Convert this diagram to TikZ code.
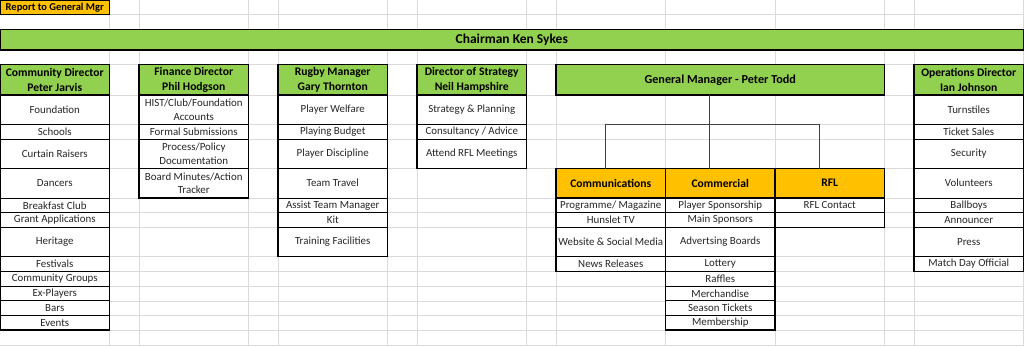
\documentclass[tikz,border=0pt]{standalone}
\usepackage{fontspec}
\setmainfont{Carlito}
\usepackage{tikz}
\usetikzlibrary{positioning, calc}

\definecolor{hdrgreen}{RGB}{146,208,80}
\definecolor{hdrorange}{RGB}{255,192,0}
\definecolor{gridgray}{RGB}{218,218,218}

\begin{document}
\begin{tikzpicture}[x=1pt, y=-1pt,
    cell/.style={draw, line width=0.7pt, fill=white, outer sep=0pt, inner sep=0pt,
        minimum width=109.5pt, minimum height=14.7pt, align=center,
        font=\fontsize{10.9}{13.8}\selectfont, text=black!85},
    tall/.style={cell, minimum height=29.4pt},
    head/.style={cell, line width=1.5pt, fill=hdrgreen, minimum height=30.3pt,
        font=\fontsize{11.6}{15.5}\selectfont\bfseries, text=black},
    sub/.style={head, fill=hdrorange, minimum height=29.4pt},
    boxframe/.style={line width=1.5pt},
    gridline/.style={gridgray, line width=0.6pt},
    link/.style={black!75, line width=0.8pt}]

    % sheet background and grid
    \fill[white] (0,0) rectangle (1024,346);
    \useasboundingbox (0,0) rectangle (1024,346);
    \foreach \gx in {109.5,139,248.5,278,387.5,417,526.5,556,665.5,775,884.5,914,1023.5}
        \draw[gridline] (\gx,0) -- (\gx,346);
    \foreach \gy in {14.7,29.4,50,64.7,95,124.4,139.1,168.5,197.9,212.6,227.3,256.7,271.4,286.1,300.8,315.5,330.2,344.9}
        \draw[gridline] (0,\gy) -- (1024,\gy);

    % top rows
    \node[cell, fill=hdrorange, text=black, font=\fontsize{10.5}{13.5}\selectfont\bfseries, anchor=north west] (report) at (0,0) {Report to General Mgr};
    \node[head, anchor=north west, minimum width=1023.5pt, minimum height=20.6pt, font=\fontsize{13.5}{16}\selectfont\bfseries] (chair) at (0,29.4) {Chairman Ken Sykes};

    % Community Director
    \node[head, anchor=north west] (cd) at (0,64.7) {Community Director\\Peter Jarvis};
    \node[tall, below=0pt of cd] (cd1) {Foundation};
    \node[cell, below=0pt of cd1] (cd2) {Schools};
    \node[tall, below=0pt of cd2] (cd3) {Curtain Raisers};
    \node[tall, below=0pt of cd3] (cd4) {Dancers};
    \node[cell, below=0pt of cd4] (cd5) {Breakfast Club};
    \node[cell, below=0pt of cd5] (cd6) {Grant Applications};
    \node[tall, below=0pt of cd6] (cd7) {Heritage};
    \node[cell, below=0pt of cd7] (cd8) {Festivals};
    \node[cell, below=0pt of cd8] (cd9) {Community Groups};
    \node[cell, below=0pt of cd9] (cd10) {Ex-Players};
    \node[cell, below=0pt of cd10] (cd11) {Bars};
    \node[cell, below=0pt of cd11] (cd12) {Events};
    \draw[boxframe] (cd.north west) rectangle (cd12.south east);

    % Finance Director
    \node[head, anchor=north west] (fd) at (139,64.7) {Finance Director\\Phil Hodgson};
    \node[tall, below=0pt of fd] (fd1) {HIST/Club/Foundation\\Accounts};
    \node[cell, below=0pt of fd1] (fd2) {Formal Submissions};
    \node[tall, below=0pt of fd2] (fd3) {Process/Policy\\Documentation};
    \node[tall, below=0pt of fd3] (fd4) {Board Minutes/Action\\Tracker};
    \draw[boxframe] (fd.north west) rectangle (fd4.south east);

    % Rugby Manager
    \node[head, anchor=north west] (rm) at (278,64.7) {Rugby Manager\\Gary Thornton};
    \node[tall, below=0pt of rm] (rm1) {Player Welfare};
    \node[cell, below=0pt of rm1] (rm2) {Playing Budget};
    \node[tall, below=0pt of rm2] (rm3) {Player Discipline};
    \node[tall, below=0pt of rm3] (rm4) {Team Travel};
    \node[cell, below=0pt of rm4] (rm5) {Assist Team Manager};
    \node[cell, below=0pt of rm5] (rm6) {Kit};
    \node[tall, below=0pt of rm6] (rm7) {Training Facilities};
    \draw[boxframe] (rm.north west) rectangle (rm7.south east);

    % Director of Strategy
    \node[head, anchor=north west] (ds) at (417,64.7) {Director of Strategy\\Neil Hampshire};
    \node[tall, below=0pt of ds] (ds1) {Strategy \& Planning};
    \node[cell, below=0pt of ds1] (ds2) {Consultancy / Advice};
    \node[tall, below=0pt of ds2] (ds3) {Attend RFL Meetings};
    \draw[boxframe] (ds.north west) rectangle (ds3.south east);

    % General Manager and his teams
    \node[head, anchor=north west, minimum width=328.5pt, font=\fontsize{12.2}{15}\selectfont\bfseries] (gm) at (556,64.7) {General Manager - Peter Todd};

    \node[sub, anchor=north west] (comm) at (556,168.5) {Communications};
    \node[cell, below=0pt of comm] (cm1) {Programme/ Magazine};
    \node[cell, below=0pt of cm1] (cm2) {Hunslet TV};
    \node[tall, below=0pt of cm2] (cm3) {Website \& Social Media};
    \node[cell, below=0pt of cm3] (cm4) {News Releases};
    \draw[boxframe] (comm.north west) rectangle (cm4.south east);

    \node[sub, right=0pt of comm] (comrc) {Commercial};
    \node[cell, below=0pt of comrc] (cr1) {Player Sponsorship};
    \node[cell, below=0pt of cr1] (cr2) {Main Sponsors};
    \node[tall, below=0pt of cr2] (cr3) {Advertsing Boards};
    \node[cell, below=0pt of cr3] (cr4) {Lottery};
    \node[cell, below=0pt of cr4] (cr5) {Raffles};
    \node[cell, below=0pt of cr5] (cr6) {Merchandise};
    \node[cell, below=0pt of cr6] (cr7) {Season Tickets};
    \node[cell, below=0pt of cr7] (cr8) {Membership};
    \draw[boxframe] (comrc.north west) rectangle (cr8.south east);

    \node[sub, right=0pt of comrc] (rfl) {RFL};
    \node[cell, below=0pt of rfl] (rf1) {RFL Contact};
    \node[cell, below=0pt of rf1] (rf2) {};
    \draw[boxframe] (rfl.north west) rectangle (rf2.south east);

    % reporting lines under the General Manager
    \coordinate (bus) at ($(gm.south)!0.4!(comrc.north)$);
    \draw[link] ([xshift=-11pt]gm.south) -- ([xshift=-11pt]comrc.north);
    \draw[link] ([xshift=-5pt]comm.north) |- ([xshift=-11pt]bus) -| ([xshift=-10pt]rfl.north);

    % Operations Director
    \node[head, anchor=north west] (od) at (914,64.7) {Operations Director\\Ian Johnson};
    \node[tall, below=0pt of od] (od1) {Turnstiles};
    \node[cell, below=0pt of od1] (od2) {Ticket Sales};
    \node[tall, below=0pt of od2] (od3) {Security};
    \node[tall, below=0pt of od3] (od4) {Volunteers};
    \node[cell, below=0pt of od4] (od5) {Ballboys};
    \node[cell, below=0pt of od5] (od6) {Announcer};
    \node[tall, below=0pt of od6] (od7) {Press};
    \node[cell, below=0pt of od7] (od8) {Match Day Official};
    \draw[boxframe] (od.north west) rectangle (od8.south east);
\end{tikzpicture}
\end{document}
